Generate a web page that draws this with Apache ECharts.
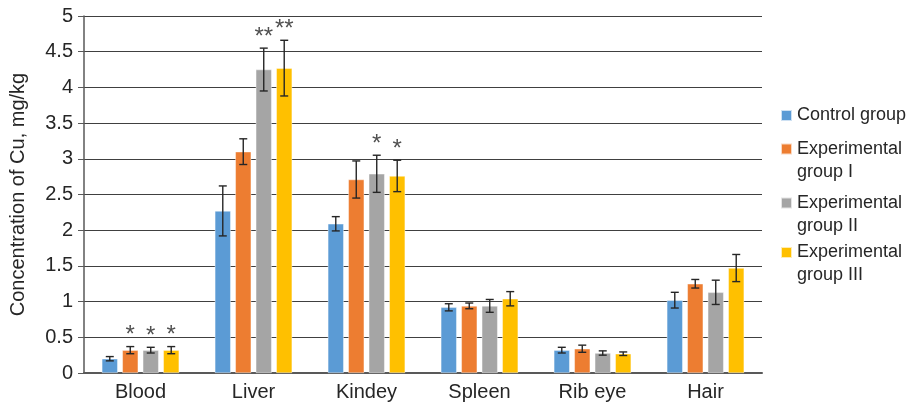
<!DOCTYPE html>
<html>
<head>
<meta charset="utf-8">
<script src="https://cdn.jsdelivr.net/npm/echarts@6/dist/echarts.min.js"></script>
<style>
  html, body { margin: 0; padding: 0; background: #fff; }
  #chart { width: 914px; height: 405px; }
</style>
</head>
<body>
<div id="chart"></div>
<script>
// tissues on the x axis
const categories = ["Blood", "Liver", "Kindey", "Spleen", "Rib eye", "Hair"];
const groups = ["Control group", "Experimental group I", "Experimental group II", "Experimental group III"];

// mean Cu concentration, mg/kg
const control = [0.2, 2.27, 2.09, 0.92, 0.32, 1.02];
const exp1 = [0.32, 3.1, 2.71, 0.94, 0.34, 1.25];
const exp2 = [0.32, 4.25, 2.79, 0.94, 0.28, 1.13];
const exp3 = [0.32, 4.27, 2.76, 1.04, 0.27, 1.47];

// error (+/-)
const controlErr = [0.03, 0.35, 0.1, 0.05, 0.04, 0.11];
const exp1Err = [0.05, 0.18, 0.26, 0.04, 0.05, 0.06];
const exp2Err = [0.04, 0.3, 0.26, 0.09, 0.03, 0.17];
const exp3Err = [0.05, 0.39, 0.22, 0.1, 0.025, 0.19];

// significance marks
const controlSig = ["", "", "", "", "", ""];
const exp1Sig = ["*", "", "", "", "", ""];
const exp2Sig = ["*", "**", "*", "", "", ""];
const exp3Sig = ["*", "**", "*", "", "", ""];

const yTicks = { min: 0, max: 5, interval: 0.5 };

const values = [control, exp1, exp2, exp3];
const errors = [controlErr, exp1Err, exp2Err, exp3Err];
const sigs = [controlSig, exp1Sig, exp2Sig, exp3Sig];
const colors = ["#5B9BD5", "#ED7D31", "#A5A5A5", "#FFC000"];

const BAR_W = 16;
const BAR_GAP = "28%";
const legendTops = [104, 114.5, 168.5, 218];

const chart = echarts.init(document.getElementById("chart"));

const barSeries = groups.map((g, i) => ({
  name: g,
  type: "bar",
  barWidth: BAR_W,
  barGap: BAR_GAP,
  data: values[i],
  itemStyle: { color: colors[i], borderColor: "rgba(255,255,255,0.7)", borderWidth: 0.6 },
  z: 2
}));

const errSeries = groups.map((g, i) => ({
  type: "custom",
  z: 5,
  silent: true,
  data: values[i].map((v, k) => [k, v + errors[i][k], v - errors[i][k]]),
  renderItem: function (params, api) {
    const layout = api.barLayout({ barWidth: BAR_W, barGap: BAR_GAP, count: groups.length });
    const off = layout[i].offsetCenter;
    const hi = api.coord([api.value(0), api.value(1)]);
    const lo = api.coord([api.value(0), api.value(2)]);
    const x = hi[0] + off;
    const cap = 4;
    const style = { stroke: "#262626", lineWidth: 1.4 };
    const children = [
      { type: "line", shape: { x1: x, y1: hi[1], x2: x, y2: lo[1] }, style: style },
      { type: "line", shape: { x1: x - cap, y1: hi[1], x2: x + cap, y2: hi[1] }, style: style },
      { type: "line", shape: { x1: x - cap, y1: lo[1], x2: x + cap, y2: lo[1] }, style: style }
    ];
    const mark = sigs[i][params.dataIndex];
    if (mark) {
      children.push({
        type: "text",
        style: {
          text: mark,
          x: x,
          y: hi[1] + 1,
          align: "center",
          verticalAlign: "bottom",
          font: "24px Arial, 'Liberation Sans', sans-serif",
          fill: "#505050"
        }
      });
    }
    return { type: "group", children: children };
  }
}));

const option = {
  animation: false,
  textStyle: { fontFamily: "Arial, 'Liberation Sans', sans-serif" },
  grid: { left: 84, right: 152, top: 16, bottom: 32 },
  legend: groups.map((g, i) => ({
    orient: "vertical",
    left: 780,
    top: legendTops[i],
    padding: 0,
    itemWidth: 11,
    itemHeight: 11,
    selectedMode: false,
    data: [{ name: g, icon: "rect" }],
    formatter: function (name) {
      // two-line names: blank first line keeps "Experimental" level with the icon
      return name.indexOf("Experimental ") === 0
        ? " \n" + name.replace("Experimental ", "Experimental\n")
        : name;
    },
    textStyle: { fontSize: 18, lineHeight: 23, color: "#262626" }
  })),
  xAxis: {
    type: "category",
    data: categories,
    axisLine: { show: true, lineStyle: { color: "#595959", width: 2 } },
    axisTick: { show: false },
    axisLabel: { fontSize: 20, color: "#262626", margin: 9 }
  },
  yAxis: {
    type: "value",
    min: yTicks.min,
    max: yTicks.max,
    interval: yTicks.interval,
    name: "Concentration of Cu, mg/kg",
    nameLocation: "middle",
    nameGap: 56,
    nameTextStyle: { fontSize: 20, color: "#262626" },
    axisLine: { show: true, lineStyle: { color: "#595959", width: 1.5 } },
    axisTick: { show: true, length: 6, lineStyle: { color: "#595959" } },
    axisLabel: { fontSize: 20, color: "#262626", margin: 11 },
    splitLine: { show: true, lineStyle: { color: "#404040", width: 1 } }
  },
  series: barSeries.concat(errSeries)
};

chart.setOption(option);
</script>
</body>
</html>
